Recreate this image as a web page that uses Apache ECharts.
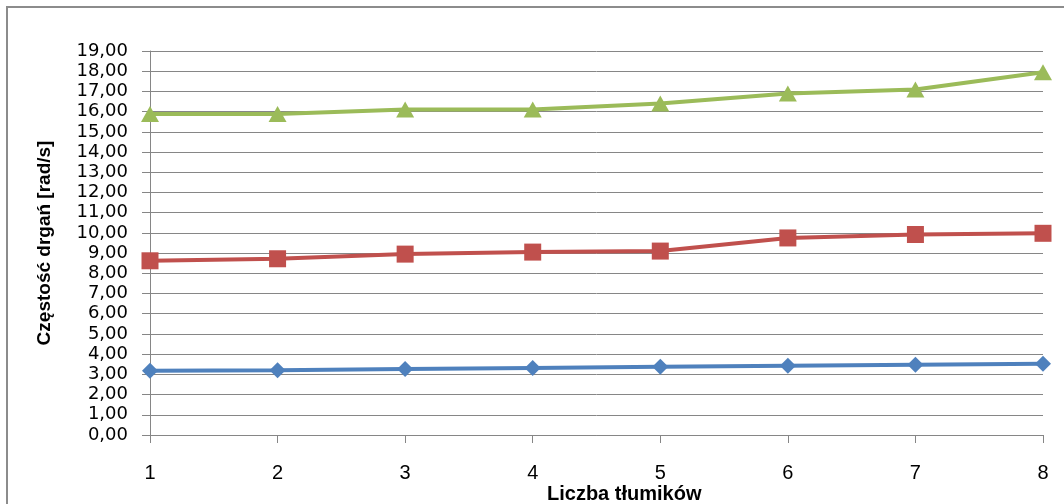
<!DOCTYPE html>
<html>
<head>
<meta charset="utf-8">
<script src="https://cdn.jsdelivr.net/npm/echarts@6/dist/echarts.min.js"></script>
<style>
  html, body { margin: 0; padding: 0; background: #ffffff; }
  #chart { width: 1064px; height: 504px; }
</style>
</head>
<body>
<div id="chart"></div>
<script>
// Liczba tłumików (x) vs. częstość drgań (y) for three modes
const categories = ['1', '2', '3', '4', '5', '6', '7', '8'];
const seriesBlue  = [3.18, 3.20, 3.27, 3.32, 3.38, 3.43, 3.48, 3.53];
const seriesRed   = [8.62, 8.72, 8.95, 9.05, 9.10, 9.75, 9.92, 9.98];
const seriesGreen = [15.88, 15.88, 16.10, 16.10, 16.40, 16.90, 17.10, 17.95];
const yMin = 0, yMax = 19, yStep = 1;
const xTitle = 'Liczba tłumików';
const yTitle = 'Częstość drgań [rad/s]';

const gridColor = '#868686';
const chart = echarts.init(document.getElementById('chart'), null, { renderer: 'canvas' });

function lineSeries(name, data, color, symbol, size) {
  return {
    name: name,
    type: 'line',
    data: data,
    symbol: symbol,
    symbolSize: size,
    showSymbol: true,
    lineStyle: { color: color, width: 4 },
    itemStyle: { color: color, borderWidth: 0 },
    z: 3,
    animation: false
  };
}

chart.setOption({
  animation: false,
  backgroundColor: '#ffffff',
  grid: { left: 150, right: 21, top: 51, bottom: 69, containLabel: false },
  graphic: [
    {
      type: 'rect',
      shape: { x: 7, y: 7, width: 1200, height: 700 },
      style: { fill: 'none', stroke: '#8c8c8c', lineWidth: 2 },
      silent: true
    },
    {
      type: 'text',
      left: 547, top: 484,
      style: {
        text: xTitle,
        fill: '#000',
        font: 'bold 20px "Liberation Sans Narrow", "Liberation Sans", sans-serif'
      }
    }
  ],
  xAxis: {
    type: 'category',
    data: categories,
    boundaryGap: false,
    axisLine: { show: true, lineStyle: { color: gridColor, width: 1 } },
    axisTick: { show: true, inside: false, length: 8, alignWithLabel: true, lineStyle: { color: gridColor } },
    axisLabel: {
      margin: 28,
      color: '#000',
      fontSize: 20,
      fontFamily: '"Liberation Sans Narrow", "Liberation Sans", sans-serif'
    },
    splitLine: { show: false }
  },
  yAxis: {
    type: 'value',
    min: yMin, max: yMax, interval: yStep,
    name: yTitle,
    nameLocation: 'middle',
    nameGap: 96,
    nameRotate: 90,
    nameTextStyle: {
      color: '#000',
      fontSize: 19,
      fontWeight: 'bold',
      fontFamily: '"Liberation Sans", sans-serif'
    },
    axisLine: { show: true, lineStyle: { color: gridColor, width: 1 } },
    axisTick: { show: true, inside: false, length: 8, lineStyle: { color: gridColor } },
    axisLabel: {
      margin: 22,
      color: '#000',
      fontSize: 18,
      fontFamily: '"DejaVu Sans", sans-serif',
      formatter: v => v.toFixed(2).replace('.', ',')
    },
    splitLine: { show: true, lineStyle: { color: gridColor, width: 1 } }
  },
  series: [
    lineSeries('Seria1', seriesBlue, '#4F81BD', 'diamond', 16),
    lineSeries('Seria2', seriesRed, '#C0504D', 'rect', 17),
    lineSeries('Seria3', seriesGreen, '#9BBB59', 'triangle', [18, 16])
  ]
});
</script>
</body>
</html>
